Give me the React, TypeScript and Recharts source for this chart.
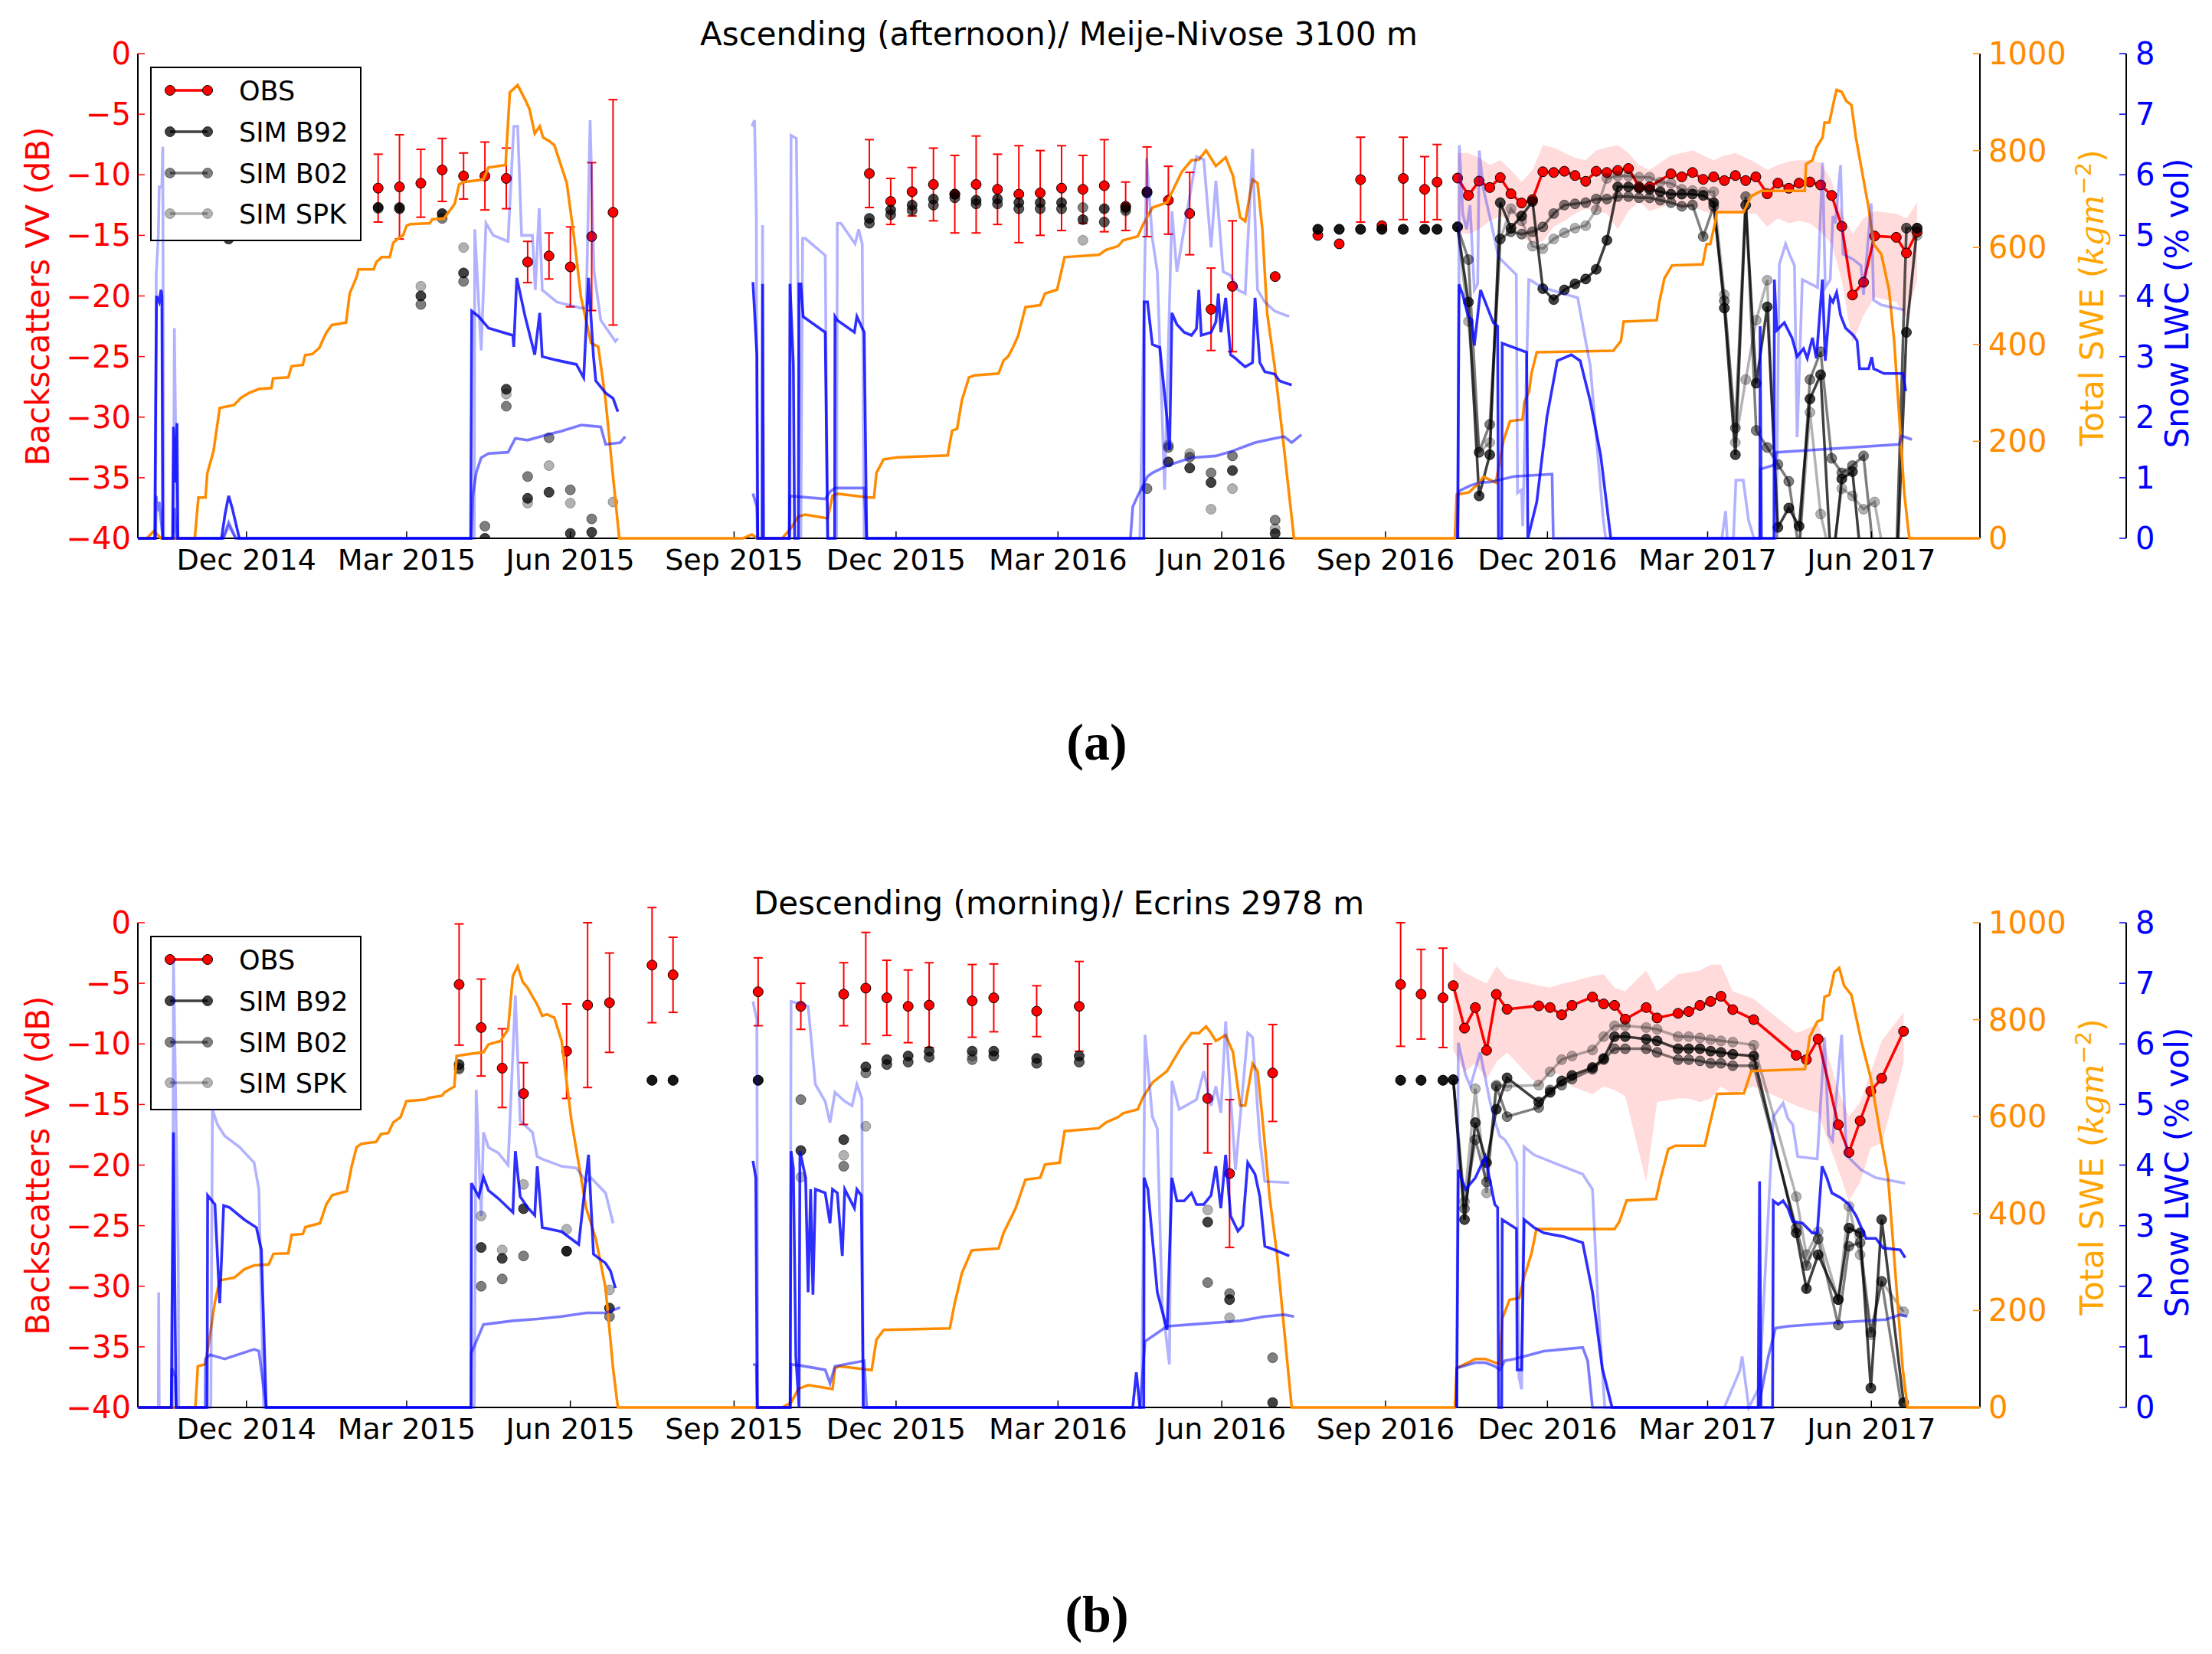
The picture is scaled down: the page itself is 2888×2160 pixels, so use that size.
import React from 'react';
import { ComposedChart, Line, Scatter, Area, XAxis, YAxis, ErrorBar } from 'recharts';

// x values are days counted from 2014-10-01
const X_DOMAIN = [0, 1035];
const TICK_DAYS = [61, 151, 243, 335, 426, 517, 609, 701, 792, 882, 974];
const TICK_LABELS = ['Dec 2014', 'Mar 2015', 'Jun 2015', 'Sep 2015', 'Dec 2015', 'Mar 2016', 'Jun 2016', 'Sep 2016', 'Dec 2016', 'Mar 2017', 'Jun 2017'];
const DB_TICKS = [-40, -35, -30, -25, -20, -15, -10, -5, 0];
const SWE_TICKS = [0, 200, 400, 600, 800, 1000];
const LWC_TICKS = [0, 1, 2, 3, 4, 5, 6, 7, 8];
const LEGEND_NAMES = ['OBS', 'SIM B92', 'SIM B02', 'SIM SPK'];

// ---------- (a) Ascending / Meije-Nivose ----------
// [day, dB, error]
const OBS_A_ERR = [
  [135, -11.1, 2.8], [147, -11.0, 4.3], [159, -10.7, 2.8], [171, -9.6, 2.6], [183, -10.1, 1.9], [195, -10.1, 2.8],
  [207, -10.3, 2.5], [219, -17.2, 1.7], [231, -16.7, 1.9], [243, -17.6, 3.3], [255, -15.1, 6.1], [267, -13.1, 9.3],
  [411, -9.9, 2.8], [423, -12.2, 1.9], [435, -11.4, 2.0], [447, -10.8, 3.0], [459, -11.6, 3.2], [471, -10.8, 4.0],
  [483, -11.2, 2.9], [495, -11.6, 4.0], [507, -11.5, 3.5], [519, -11.1, 3.5], [531, -11.2, 2.8], [543, -10.9, 3.8],
  [555, -12.6, 2.0], [567, -11.4, 3.7], [579, -12.1, 2.8], [591, -13.2, 3.4], [603, -21.1, 3.4], [615, -19.2, 5.4],
  [687, -10.4, 3.5], [711, -10.3, 3.4], [723, -11.2, 2.7], [730, -10.6, 3.1],
];
const OBS_A_PLAIN = [[639, -18.4], [663, -15.0], [675, -15.7], [699, -14.2]];

const B92_A_PTS = [
  [51, -15.3], [135, -12.7], [147, -12.7], [159, -20.0], [171, -13.2], [183, -18.1], [195, -40.0], [207, -27.7],
  [219, -36.7], [231, -36.2], [243, -39.6], [255, -39.5], [411, -13.6], [423, -12.9], [435, -12.5], [447, -12.0],
  [459, -11.6], [471, -12.1], [483, -12.0], [495, -12.3], [507, -12.3], [519, -12.3], [531, -13.7], [543, -12.8],
  [555, -12.7], [567, -11.5], [579, -33.7], [591, -34.2], [603, -35.4], [615, -34.4], [639, -39.6],
  [663, -14.5], [675, -14.5], [687, -14.5], [699, -14.5], [711, -14.5], [723, -14.5], [730, -14.5],
];
const B02_A_PTS = [
  [135, -12.7], [147, -12.8], [159, -20.7], [171, -13.6], [183, -18.8], [195, -39.0], [207, -29.1], [219, -34.9],
  [231, -31.7], [243, -36.0], [255, -38.4], [411, -14.0], [423, -13.3], [435, -12.9], [447, -12.5], [459, -11.9],
  [471, -12.4], [483, -12.4], [495, -12.8], [507, -12.8], [519, -12.8], [531, -12.7], [543, -13.9], [555, -12.9],
  [567, -35.9], [579, -32.5], [591, -33.3], [603, -34.6], [615, -33.2], [639, -38.5],
  [663, -14.5], [675, -14.5], [687, -14.5], [699, -14.5], [711, -14.5], [723, -14.5], [730, -14.5],
];
const SPK_A_PTS = [
  [135, -12.8], [147, -12.8], [159, -19.2], [171, -13.3], [183, -16.0], [207, -28.1], [219, -37.1], [231, -34.0],
  [243, -37.1], [267, -37.0], [411, -14.0], [423, -13.3], [435, -13.0], [447, -12.5], [459, -11.9], [471, -12.4],
  [483, -12.4], [495, -12.8], [507, -12.8], [519, -12.8], [531, -15.4], [543, -13.9], [555, -13.0], [567, -11.4],
  [579, -32.3], [591, -33.0], [603, -37.6], [615, -35.9], [639, -39.2],
  [663, -14.5], [675, -14.5], [687, -14.5], [699, -14.5], [711, -14.5], [723, -14.5], [730, -14.5],
];

// 2016-2017 season: [day, dB, band low, band high]
const OBS_A_S3 = [
  [741.5, -10.27, -14.7, -8.2], [747.6, -11.7, -14.9, -8.2], [753.6, -10.52, -14.5, -8.6], [759.6, -11.05, -13.8, -9.2],
  [765.5, -10.23, -13.4, -8.8], [771.5, -11.57, -13.8, -9.6], [777.5, -12.33, -15.1, -10.6], [783.6, -12.05, -15.7, -9.6],
  [789.4, -9.75, -15.5, -7.55], [795.5, -9.81, -14.3, -7.76], [801.5, -9.71, -13.8, -8.2], [807.5, -10.06, -13.2, -8.6],
  [813.5, -10.54, -12.8, -8.8], [819.4, -9.71, -13.0, -7.97], [825.4, -9.81, -13.2, -7.76], [831.5, -9.64, -14.5, -7.55],
  [837.5, -9.48, -13.0, -8.2], [843.5, -11.0, -12.2, -9.2], [849.4, -11.0, -13.0, -9.6], [861.4, -9.92, -12.4, -8.4],
  [867.5, -10.17, -12.8, -8.2], [873.5, -9.81, -12.6, -7.97], [879.5, -10.38, -13.0, -8.4], [885.4, -10.17, -13.2, -8.8],
  [891.4, -10.48, -13.2, -8.4], [897.6, -10.06, -13.2, -8.2], [903.4, -10.48, -13.2, -8.6], [909.1, -10.17, -13.2, -9.0],
  [915.5, -11.57, -14.3, -9.6], [921.5, -10.69, -13.6, -9.2], [927.6, -11.11, -14.0, -8.9], [933.4, -10.69, -13.8, -8.8],
  [939.5, -10.59, -14.0, -8.8], [945.5, -10.84, -14.7, -9.0], [951.7, -11.7, -15.7, -10.5], [957.4, -14.26, -18.7, -13.2],
  [963.4, -19.92, -23.9, -14.9], [969.6, -18.87, -21.6, -13.6], [975.8, -15.05, -20.1, -13.0], [988.0, -15.16, -20.5, -13.2],
  [993.7, -16.46, -21.8, -13.6], [999.7, -14.72, -18.7, -12.3],
];
const S3_DAYS_A = [
  741.5, 747.6, 753.6, 759.6, 765.5, 771.5, 777.5, 783.6, 789.4, 795.5, 801.5, 807.5, 813.5, 819.4, 825.4,
  831.5, 837.5, 843.5, 849.4, 855.4, 861.4, 867.5, 873.5, 879.5, 885.4, 891.4, 897.6, 903.4, 909.3, 915.5,
  921.5, 927.6, 933.4, 939.5, 945.5, 951.7, 957.4, 963.4, 969.6, 975.8, 981.8, 988.0, 993.7, 999.7,
];
const B92_A_S3 = [
  -14.3, -20.5, -36.5, -33.1, -12.3, -14.4, -13.4, -12.2, -19.4, -20.3, -19.5, -19.0, -18.6, -17.8, -15.4,
  -11.0, -11.0, -11.1, -11.2, -11.4, -11.6, -11.6, -11.6, -11.7, -12.3, -21.0, -33.1, -12.5, -27.2, -20.9,
  -39.1, -37.5, -39.0, -28.5, -26.5, -43, -35.1, -34.5, -44, -44, -44, -44, -23.0, -14.4,
];
const B02_A_S3 = [
  -14.3, -17.0, -32.9, -30.6, -15.3, -14.7, -14.9, -14.7, -14.3, -13.2, -12.5, -12.4, -12.3, -12.0, -12.0,
  -11.8, -11.8, -11.9, -11.9, -12.1, -12.3, -12.6, -12.5, -15.1, -12.6, -20.4, -30.9, -11.8, -31.1, -32.5,
  -33.9, -35.3, -41, -26.9, -24.6, -33.4, -34.6, -34.0, -33.2, -42, -42, -42, -14.4, -14.4,
];
const SPK_A_S3 = [
  -14.3, -22.1, -32.9, -32.1, -15.3, -12.8, -13.8, -15.9, -16.1, -15.3, -14.8, -14.4, -14.2, -12.9, -10.3,
  -10.1, -10.1, -10.2, -10.2, -10.6, -10.7, -11.2, -11.3, -11.4, -11.4, -19.9, -32.1, -26.9, -22.0, -18.7,
  -41, -41, -41, -29.6, -38, -42, -35.9, -36.5, -37.6, -37.0, -42, -42, -14.4, -15.0,
];

// total SWE, kg m-2
const SWE_A = [
  [0, 0], [5, 0], [9, 15], [13, 0], [32, 0], [34, 84], [38, 84], [39, 134], [42.5, 180], [46, 269], [54, 275], [58, 290],
  [62.5, 300], [68, 308], [75, 310], [76, 330], [84.5, 332], [86.4, 355], [92.7, 358], [94, 378], [98, 380], [102, 393],
  [104, 410], [106, 425], [109, 440], [117, 445], [119, 505], [123, 540], [124, 555], [132.5, 555], [134, 570], [137, 580],
  [141.5, 580], [143.5, 610], [146, 618], [149, 625], [151, 645], [153, 648], [164, 650], [165.4, 658], [172, 660],
  [175, 675], [178, 690], [180.5, 730], [183, 735], [194, 740], [197, 765], [206.6, 770], [209, 920], [213.4, 935],
  [217.6, 905], [220, 886], [223, 835], [225.8, 850], [227.7, 827], [231, 820], [234, 811], [241, 733], [245, 623],
  [249, 497], [254.6, 403], [258.7, 395], [262.8, 285], [267, 127], [270.5, 0],
  [340, 0], [345, 8], [348, 0], [362, 0], [367, 21], [371, 45], [375, 49], [387.6, 41], [390.3, 88], [393, 92], [411, 84],
  [413.6, 84], [415, 135], [419, 163], [427, 167], [455, 171], [457.5, 222], [460.3, 226], [463, 285], [467, 332],
  [470, 336], [483.6, 340], [486.4, 367], [489, 375], [491.8, 395], [494.6, 418], [498.7, 477], [507, 481], [509.7, 505],
  [516.5, 513], [520.7, 580], [540, 585], [544, 595], [550.8, 603], [553.6, 615], [561.8, 623], [564.6, 646], [570, 682],
  [578.3, 693], [586.5, 756], [592, 780], [596, 781], [600.2, 800], [603, 784], [605.7, 768], [611.2, 786], [615.3, 748],
  [619.4, 662], [622.2, 654], [626.3, 740], [629.1, 733], [631.8, 638], [634.5, 465], [638.7, 355], [644.1, 182], [649.6, 0],
  [740, 0], [741, 90], [748, 95], [753.7, 115], [756, 127], [763, 115], [767.4, 203], [771, 242], [778, 245], [779, 281],
  [781.7, 303], [783, 340], [786, 384], [829, 387], [833.3, 407], [834.8, 447], [853.4, 450], [854.8, 486], [857.7, 536],
  [862, 563], [879.2, 565], [881.4, 607], [883.5, 607], [886.4, 654], [887.1, 673], [902.2, 673], [906.5, 706],
  [912.2, 717], [936.6, 717], [937.3, 772], [940.9, 780], [943.1, 806], [946.6, 827], [947.7, 858], [950.4, 858],
  [953.2, 906], [954.5, 925], [957.3, 921], [960, 902], [962.8, 894], [965.3, 827], [972.5, 681], [975.3, 607],
  [979.6, 586], [983.9, 513], [986.8, 408], [989.7, 250], [992.5, 93], [994.7, 20], [995.4, 0], [1035, 0],
];

// snow LWC, % vol, one list per season
const LWC_B92_A = [
  [[0, 0], [9.5, 0], [10, 2.2], [10.5, 4.0], [12, 3.9], [13, 4.1], [13.5, 4.0], [14, 0], [19.5, 0], [20, 1.84], [21, 0.92],
    [22, 1.9], [22.5, 0], [47, 0], [49, 0.4], [51, 0.7], [53, 0.5], [57, 0], [187, 0], [187.6, 3.75], [191.5, 3.66],
    [197, 3.47], [210.7, 3.35], [211.2, 3.16], [212.9, 4.3], [217.6, 3.66], [223, 3.03], [225.8, 3.72], [227.2, 3.0],
    [235.4, 2.94], [246.4, 2.87], [250.5, 2.65], [253.2, 4.3], [256, 3.0], [257.3, 2.6], [262.8, 2.4], [267, 2.31], [269.7, 2.09]],
  [[345.6, 4.23], [347.8, 3.03], [348.3, 0], [350.8, 0], [351, 4.2], [351.5, 0], [366, 0], [366.4, 4.2], [368.3, 2.87],
    [369, 0], [371.1, 0], [371.5, 4.2], [372.5, 4.2], [373.8, 3.66], [386.2, 3.4], [387.6, 0], [391.5, 0], [391.7, 3.66],
    [393, 3.6], [402.6, 3.4], [404, 3.66], [408.1, 3.4], [409.5, 0], [565.2, 0], [565.4, 3.9], [567.3, 3.9], [570, 3.2],
    [574.2, 3.15], [578.3, 1.96], [579.7, 1.46], [581, 3.72], [583.8, 3.53], [587.9, 3.4], [592, 3.35], [594.8, 3.46],
    [596.1, 4.1], [597.5, 3.35], [603, 3.4], [605.7, 3.57], [607.1, 4.04], [608.5, 3.4], [611.2, 3.97], [614, 3.03],
    [616.7, 2.97], [619.4, 2.9], [622.2, 2.83], [626.3, 2.9], [627.7, 3.97], [630.4, 2.9], [633.2, 2.75], [638.7, 2.71],
    [641.4, 2.6], [644.1, 2.57], [648.3, 2.53]],
  [[741.5, 0], [742.3, 4.19], [744.4, 4.02], [747.3, 3.68], [749.4, 3.6], [750.9, 3.18], [754.4, 4.1], [761.6, 3.56],
    [764, 3.5], [764.5, 0], [766.3, 0], [766.6, 3.22], [780.3, 3.07], [781, 0], [786, 0.6], [791.7, 2.0], [797.5, 2.93],
    [805.4, 3.03], [810.4, 2.93], [816.1, 2.26], [821.9, 1.37], [827.6, 0], [911.4, 0], [911.5, 3.5], [912.2, 0],
    [919.3, 0], [919.5, 4.27], [920.8, 3.43], [925.1, 3.56], [929.4, 3.31], [932.3, 3.0], [935.9, 3.13], [938, 2.97],
    [940.9, 3.31], [943.1, 2.97], [946.5, 4.27], [948.1, 2.93], [950.9, 3.97], [952.4, 3.9], [954.5, 4.06], [956.7, 3.68],
    [959.5, 3.47], [963.9, 3.35], [966, 3.26], [967.4, 2.8], [972.5, 2.8], [974.2, 2.99], [975.3, 2.8], [981.1, 2.72],
    [991.8, 2.72], [993.3, 2.43]],
];
const LWC_B02_A = [
  [[0, 0], [10, 0], [10.3, 0.7], [11, 0.45], [12, 0.6], [14, 0], [20, 0], [20.5, 0.5], [22, 0], [48, 0], [51, 0.26],
    [55, 0], [187.4, 0], [188.2, 0.7], [190.1, 1.08], [192.9, 1.33], [197, 1.4], [208, 1.42], [212.1, 1.65], [219, 1.62],
    [229.9, 1.71], [238.1, 1.77], [249.1, 1.87], [260.1, 1.84], [262.8, 1.55], [271, 1.58], [273.8, 1.68]],
  [[345.6, 0.74], [347.8, 0.52], [348.3, 0], [366, 0], [366.4, 0.7], [386.2, 0.65], [389, 0.77], [391.7, 0.83],
    [408.1, 0.83], [409.5, 0], [557.7, 0], [559, 0.52], [561.8, 0.7], [567.3, 1.02], [570, 1.08], [578.3, 1.2], [592, 1.33],
    [605.7, 1.36], [614, 1.43], [622.2, 1.52], [627.7, 1.58], [638.7, 1.65], [644.1, 1.68], [648.3, 1.58], [653.8, 1.71]],
  [[741.5, 0], [742, 0.75], [743, 0.79], [748.7, 0.87], [753.7, 0.92], [760.2, 0.93], [773.1, 1.02], [794.6, 1.06],
    [795.3, 0], [911.3, 0], [911.5, 1.14], [919.4, 1.21], [920.8, 1.42], [989.7, 1.55], [991.1, 1.69], [996.8, 1.63]],
];
const LWC_SPK_A = [
  [[0, 0], [9.8, 0], [10, 0.7], [10.3, 4.35], [11.5, 5.0], [12, 5.8], [13.5, 5.8], [14, 6.46], [14.5, 0], [20, 0],
    [20.5, 3.47], [22, 0], [48, 0], [51, 0.2], [55, 0], [189, 0], [189.3, 5.1], [192.9, 3.1], [195.6, 5.2], [199.7, 5.0],
    [208, 4.9], [211.2, 6.8], [213.4, 6.8], [215.6, 5.0], [221.7, 5.0], [223.3, 4.1], [225.5, 5.45], [227.2, 4.1],
    [235.4, 3.9], [249.1, 3.8], [251.9, 3.8], [254.1, 6.9], [256.3, 4.4], [260.1, 3.6], [268.3, 3.25], [269.7, 3.3]],
  [[345, 6.8], [346.5, 6.9], [347.5, 5.3], [348, 0], [350.8, 0], [351, 5.17], [351.5, 0], [366.4, 0], [367, 6.65],
    [370, 6.6], [372.5, 0], [373.5, 4.95], [375, 4.95], [386.2, 4.67], [387.6, 0], [392.6, 0], [393, 5.2], [395, 5.2],
    [403, 4.86], [405, 5.1], [407, 4.86], [408.1, 0], [563, 0], [566.8, 6.27], [570, 4.95], [572.8, 4.4], [576.9, 0.8],
    [581, 5.4], [583.8, 4.4], [594.8, 6.3], [598.9, 6.25], [603, 4.8], [605.7, 5.9], [609.8, 4.4], [614, 4.34],
    [618.1, 4.1], [622.2, 4.04], [626.3, 6.43], [629.1, 4.1], [633.2, 3.9], [638.7, 3.75], [646.9, 3.66]],
  [[741.8, 0], [742.5, 6.49], [744.4, 5.36], [746.6, 5.1], [748.5, 5.5], [750.9, 4.1], [752.8, 4.2], [753.7, 6.4],
    [755.9, 5.78], [760.2, 5.23], [764.5, 4.64], [765.9, 4.6], [774.5, 4.35], [775.2, 0.75], [777.5, 0.8], [778.1, 0.2],
    [781.5, 4.27], [783.1, 4.25], [788.9, 4.14], [809, 3.97], [816.1, 2.84], [823.3, 0.33], [824.7, 0], [890, 0],
    [892.1, 0.45], [893, 0], [896.5, 0], [897.9, 0.96], [902, 0.96], [905, 0.3], [908, 0], [920.5, 0], [922.3, 4.52],
    [925.8, 4.86], [928, 4.69], [930.8, 4.5], [932.3, 1.67], [935.2, 4.27], [943.8, 4.14], [946.6, 6.2], [948.1, 4.14],
    [950.9, 4.27], [952.4, 5.32], [953.8, 5.2], [956.7, 6.16], [958.1, 4.69], [963.9, 4.6], [968.2, 4.5], [969.6, 4.02],
    [973.9, 5.53], [975.3, 3.93], [979.6, 3.85], [992.5, 3.77]],
];

// ---------- (b) Descending / Ecrins ----------
const OBS_B_ERR = [
  [180.5, -5.1, 5.0], [192.9, -8.65, 4.0], [204.7, -12.0, 3.25], [216.7, -14.1, 2.55], [240.9, -10.6, 3.9],
  [252.7, -6.8, 6.8], [265, -6.6, 4.1], [288.9, -3.5, 4.75], [300.7, -4.3, 3.1], [348.5, -5.7, 2.8], [372.5, -6.9, 1.9],
  [396.6, -5.9, 2.6], [409, -5.4, 4.6], [420.8, -6.2, 3.1], [432.8, -6.9, 3.0], [444.6, -6.8, 3.5], [468.8, -6.45, 3.0],
  [480.9, -6.2, 2.8], [505, -7.3, 2.1], [528.9, -6.9, 3.7], [601.1, -14.5, 4.5], [613.4, -20.7, 6.1], [637.6, -12.4, 4.0],
  [709.5, -5.1, 5.1], [721, -5.9, 3.7], [733.3, -6.2, 4.1],
];
const B92_B_PTS = [
  [180.5, -11.7], [192.9, -26.8], [204.7, -27.7], [216.7, -23.6], [240.9, -27.1], [265, -31.8], [288.9, -13.0],
  [300.7, -13.0], [348.5, -13.0], [372.5, -18.8], [396.6, -17.9], [409, -11.9], [420.8, -11.3], [432.8, -11.0],
  [444.6, -10.6], [468.8, -10.6], [480.9, -10.6], [505, -11.2], [528.9, -11.0], [601.1, -24.7], [613.4, -31.1],
  [637.6, -39.6], [709.5, -13.0], [721, -13.0], [733.3, -13.0],
];
const B02_B_PTS = [
  [180.5, -12.0], [192.9, -30.0], [204.7, -29.4], [216.7, -27.5], [240.9, -27.1], [265, -32.5], [288.9, -13.0],
  [300.7, -13.0], [348.5, -13.0], [372.5, -14.6], [396.6, -20.1], [409, -12.4], [420.8, -11.7], [432.8, -11.5],
  [444.6, -11.1], [468.8, -11.3], [480.9, -11.0], [505, -11.6], [528.9, -11.5], [601.1, -29.7], [613.4, -30.6],
  [637.6, -35.9], [709.5, -13.0], [721, -13.0], [733.3, -13.0],
];
const SPK_B_PTS = [
  [180.5, -12.1], [192.9, -24.2], [204.7, -27.0], [216.7, -21.6], [240.9, -25.3], [265, -30.3], [288.9, -13.0],
  [300.7, -13.0], [348.5, -13.0], [372.5, -21.0], [396.6, -19.2], [409, -16.8], [420.8, -11.7], [432.8, -11.5],
  [444.6, -11.1], [468.8, -11.0], [480.9, -11.0], [505, -11.6], [528.9, -11.5], [601.1, -23.7], [613.4, -32.6],
  [709.5, -13.0], [721, -13.0], [733.3, -13.0],
];
const S3_DAYS_B = [
  739.1, 745.4, 751.5, 757.8, 763.3, 769.3, 787.1, 793.5, 800.0, 805.8, 817.3, 823.6, 829.7, 835.7, 847.5, 853.6,
  865.4, 871.4, 877.7, 883.7, 889.5, 896.1, 907.9, 931.8, 937.5, 944.1, 955.4, 961.4, 967.7, 973.7, 979.8, 992.1,
];
const OBS_B_S3 = [
  -5.19, -8.7, -7.0, -10.53, -5.91, -7.14, -6.86, -7.0, -7.6, -6.82, -6.13, -6.7, -6.82, -7.96, -7.0, -7.86,
  -7.48, -7.33, -6.82, -6.5, -6.07, -7.17, -8.0, -10.94, -11.3, -9.6, -16.67, -18.96, -16.35, -13.9, -12.83, -8.96,
];
const BAND_LO_B = [
  -10.5, -12.3, -11.6, -12.9, -11.5, -10.7, -13.5, -12.3, -12.6, -13.5, -14.15, -13.5, -13.8, -14.3, -21.4, -14.8,
  -14.5, -14.5, -14.8, -14.5, -13.5, -14.15, -13.5, -15.1, -15.4, -15.7, -20.4, -22.96, -21.4, -18.55, -18.2, -11.6,
];
const BAND_HI_B = [
  -3.2, -4.1, -4.56, -5.03, -3.6, -4.56, -5.2, -5.35, -5.03, -4.87, -4.4, -4.25, -5.35, -5.66, -3.93, -5.66,
  -4.25, -4.1, -3.93, -3.46, -3.46, -5.66, -6.29, -9.1, -8.8, -8.3, -13.8, -16.0, -14.8, -12.3, -9.75, -7.4,
];
const B92_B_S3 = [
  -12.96, -24.5, -16.5, -19.8, -15.4, -12.8, -14.8, -14.0, -13.05, -12.6, -11.95, -11.2, -9.4, -9.4, -9.6, -9.75,
  -10.4, -10.4, -10.4, -10.6, -10.7, -10.85, -11.0, -25.6, -30.2, -27.4, -31.1, -25.2, -25.6, -38.4, -24.5, -39.6,
];
const B02_B_S3 = [
  -12.96, -23.6, -17.9, -21.4, -13.5, -16.0, -15.25, -13.8, -13.4, -12.9, -12.1, -11.3, -10.4, -10.4, -10.4, -10.7,
  -11.3, -11.3, -11.4, -11.6, -11.6, -11.8, -11.8, -25.2, -28.3, -26.1, -33.2, -26.7, -26.4, -33.8, -29.6, -41,
];
const SPK_B_S3 = [
  -12.96, -23.0, -13.7, -22.3, -13.4, -13.5, -13.4, -12.3, -11.3, -11.0, -10.5, -9.4, -8.5, -8.5, -8.65, -8.8,
  -9.4, -9.4, -9.5, -9.65, -9.75, -9.85, -10.1, -22.6, -27.4, -25.5, -31.1, -23.4, -27.4, -34.0, -29.6, -32.1,
];

const SWE_B = [
  [0, 0], [32.3, 0], [33.7, 85], [37.8, 89], [40, 136], [43.3, 218], [46, 262], [54.3, 268], [59.8, 285], [65.3, 293],
  [73.5, 295], [76.2, 317], [84.5, 318], [86.4, 356], [92.7, 358], [94.1, 372], [102.3, 380], [105.9, 419], [109.2, 438],
  [117.4, 446], [120.1, 497], [122.9, 537], [125.6, 544], [133.9, 548], [136.6, 564], [140.7, 566], [143.5, 588],
  [147.6, 599], [150.9, 632], [161.3, 635], [164, 639], [170.9, 643], [172.3, 650], [177.8, 662], [179.1, 725], [186, 729],
  [194.2, 733], [197, 749], [203.8, 756], [208, 780], [210.7, 890], [213.4, 910], [216.2, 878], [218.9, 866], [224.4, 831],
  [227.2, 808], [229.9, 811], [234, 804], [238.1, 756], [243.6, 592], [251.9, 411], [257.3, 348], [262.8, 246], [267, 81],
  [269.7, 0],
  [362, 0], [367, 10], [371.1, 38], [376.6, 46], [390.3, 38], [391.7, 81], [394.4, 85], [412.3, 77], [415, 140],
  [419.1, 160], [456.2, 163], [458.9, 214], [463, 277], [468.5, 324], [483.6, 328], [486.4, 360], [493.2, 411],
  [498.7, 470], [507, 474], [509.7, 501], [517.9, 505], [520.7, 570], [539.9, 576], [544, 588], [550.8, 599], [553.6, 607],
  [561.8, 615], [564.6, 639], [570, 670], [578.3, 694], [586.5, 745], [592, 772], [596.1, 772], [600.2, 786], [603, 772],
  [605.7, 756], [611.2, 768], [615.3, 733], [619.4, 623], [622.2, 623], [626.3, 709], [629.1, 694], [631.8, 599],
  [635.9, 434], [640, 317], [644.1, 160], [648.3, 0],
  [740, 0], [741, 81], [751.5, 100], [757, 100], [765.2, 89], [766.6, 183], [770.7, 222], [776.2, 226], [778.9, 269],
  [783, 317], [785.8, 368], [829.7, 368], [832.4, 383], [836.5, 427], [853, 430], [855.7, 474], [859.9, 533], [864, 540],
  [880.4, 540], [883.2, 584], [887.3, 647], [902.4, 648], [906.5, 694], [936.7, 698], [939.4, 765], [943.6, 796],
  [946.3, 800], [947.7, 847], [950.4, 851], [953.2, 898], [955.9, 907], [958.7, 870], [962.8, 851], [968.3, 756],
  [973.7, 679], [979.2, 560], [983.4, 474], [987.5, 277], [991.6, 81], [994.3, 0], [1035, 0],
];

const LWC_B92_B = [
  [[0, 0], [18.8, 0], [19.1, 1.28], [20, 4.54], [21, 1.28], [21.5, 0], [38.9, 0], [39.2, 3.5], [43.3, 3.35], [46, 1.72],
    [48.2, 3.33], [51.5, 3.3], [59.8, 3.1], [66.6, 2.97], [69.4, 2.6], [72.1, 0], [187.2, 0], [187.4, 3.7], [191.5, 3.48],
    [194.2, 3.8], [197, 3.58], [202.5, 3.45], [210.7, 3.22], [212.1, 4.23], [214.8, 3.48], [219, 3.3], [223, 3.17],
    [224.4, 3.98], [227.2, 2.97], [238.1, 2.9], [243.6, 2.78], [247.7, 2.69], [253.2, 4.17], [256, 2.53], [258.7, 2.47],
    [262.8, 2.38], [265.6, 2.25], [268.3, 1.97]],
  [[345.6, 4.07], [347.2, 3.79], [348, 0], [366.5, 0], [367, 4.23], [368.3, 3.95], [369.7, 0.84], [371.5, 0], [372, 4.23],
    [375.2, 3.79], [376.6, 1.9], [378, 3.6], [379.3, 1.86], [380.7, 3.6], [386.2, 3.54], [388.9, 3.04], [390.3, 3.6],
    [393, 3.54], [395.8, 2.5], [397.2, 3.6], [402.6, 3.29], [404, 3.6], [406.5, 3.5], [407.6, 0], [559, 0], [561, 0.58],
    [563, 0], [565.2, 0], [565.4, 3.79], [567.5, 3.6], [572.8, 1.9], [578.3, 1.28], [581, 3.79], [583.8, 3.41],
    [587.9, 3.41], [592, 3.54], [594.8, 3.35], [598.9, 3.35], [603, 3.5], [605.7, 3.98], [608.5, 3.29], [611.2, 4.17],
    [614, 3.16], [618.1, 2.91], [620.8, 3.0], [623.6, 4.04], [627.7, 3.85], [630.4, 3.48], [633.2, 2.66], [638.7, 2.6],
    [646.9, 2.5]],
  [[741, 0], [741.9, 3.92], [746, 3.6], [751.5, 3.79], [757, 4.14], [762.4, 3.35], [764, 3.3], [764.6, 0], [766.3, 0],
    [766.6, 3.1], [773.4, 2.97], [774.6, 2.95], [775, 0.62], [777.5, 0.62], [778.9, 3.1], [784.4, 2.97], [789.9, 2.88],
    [800.9, 2.82], [811.8, 2.72], [817.3, 1.9], [822.8, 0.65], [828.3, 0], [910.4, 0], [911.2, 3.73], [912, 0],
    [918.5, 0], [918.9, 3.41], [921.6, 3.35], [924.4, 3.41], [927.1, 3.29], [929.8, 3.07], [935.3, 3.04], [940.8, 2.88],
    [943.6, 2.88], [946.3, 3.98], [949, 3.79], [951.8, 3.54], [957.3, 3.45], [961.4, 3.35], [965.5, 3.16], [971, 2.79],
    [976.5, 2.79], [980.6, 2.63], [990.2, 2.6], [993, 2.47]],
];
const LWC_B02_B = [
  [[0, 0], [18.8, 0], [19.1, 0.65], [21, 0.5], [21.5, 0], [37.8, 0], [38, 0.8], [40.6, 0.87], [48.8, 0.8], [65.3, 0.96],
    [68, 0.93], [72.1, 0], [187.2, 0], [187.4, 0.9], [194.2, 1.37], [210.7, 1.43], [224.4, 1.46], [238.1, 1.5],
    [251.9, 1.56], [262.8, 1.56], [271, 1.65]],
  [[345.6, 0.71], [347.5, 0.7], [348, 0], [366.5, 0], [367, 0.71], [372.5, 0.69], [386.2, 0.62], [388.9, 0.4],
    [391.7, 0.68], [408.1, 0.77], [409.5, 0], [563, 0], [565.9, 1.09], [578.3, 1.34], [592, 1.37], [605.7, 1.4],
    [619.4, 1.43], [633.2, 1.5], [644.1, 1.53], [649.6, 1.5]],
  [[741, 0], [741.1, 0.65], [751.5, 0.74], [757, 0.74], [762.4, 0.68], [765.2, 0.62], [768, 0.77], [773.4, 0.8],
    [789.9, 0.93], [811.8, 0.99], [814.6, 0.77], [817.3, 0], [910.6, 0], [916.1, 0.84], [920.2, 1.31], [927.1, 1.34],
    [954.5, 1.4], [982, 1.45], [990.2, 1.53], [994.3, 1.5]],
];
const LWC_SPK_B = [
  [[0, 0], [11.5, 0], [11.7, 1.9], [12, 0], [19.5, 0], [20, 7.37], [22.7, 2.47], [23, 0], [41, 0], [41.9, 4.92],
    [44.7, 4.67], [48.8, 4.48], [57, 4.3], [65.3, 4.04], [68, 3.6], [70.7, 0], [189, 0], [190.1, 5.24], [192.9, 3.16],
    [194.2, 4.54], [197, 4.29], [202.5, 4.2], [208, 4.0], [212.1, 6.8], [214.8, 4.73], [221.7, 4.54], [224.4, 4.14],
    [227.2, 4.1], [238.1, 3.98], [246.4, 3.95], [251.9, 3.73], [254.6, 3.79], [262.8, 3.54], [267, 3.04]],
  [[345.6, 6.7], [347.8, 6.4], [348.3, 0], [366.5, 0], [367, 6.7], [373.8, 6.65], [376.6, 6.62], [380.7, 5.33],
    [386.2, 5.05], [388.9, 4.7], [391.7, 5.2], [397.2, 5.05], [401.3, 4.98], [404, 5.33], [406.8, 5.1], [407.6, 0],
    [564, 0], [565.9, 6.15], [570, 4.8], [572.8, 4.6], [575.5, 1.72], [579.6, 0.71], [581, 5.39], [585.1, 4.92],
    [594.8, 5.08], [598.9, 5.55], [603, 4.98], [605.7, 5.3], [608.5, 4.86], [611.2, 6.37], [616.7, 3.92], [623.6, 6.18],
    [626.3, 6.11], [630.4, 4.42], [633.2, 3.73], [646.9, 3.71]],
  [[741, 0], [741.9, 6.02], [746, 5.49], [748.7, 5.3], [754.2, 5.86], [759.7, 5.05], [762.4, 4.73], [765.2, 4.48],
    [768, 4.42], [770.7, 4.3], [774.8, 4.04], [776, 0.5], [777.5, 0.3], [778.9, 4.3], [784.4, 4.17], [795.4, 4.04],
    [811.8, 3.85], [817.3, 3.6], [820.1, 1.9], [824.2, 0], [891.4, 0], [900, 0.6], [901.4, 0.84], [905.1, 0], [911, 0.33],
    [918.9, 4.8], [924.4, 5.02], [927.1, 4.77], [929.8, 4.67], [932.6, 4.14], [943.6, 4.1], [947.7, 6.11], [950, 4.5],
    [952.2, 4.4], [957.3, 6.15], [960, 4.16], [968.3, 3.92], [976.5, 3.79], [993, 3.7]],
];

// ---------- layout ----------
const W = 2888;
const H = 1020;
const PLOT_TOP = 70;
const PLOT_BOTTOM = 703;
const PLOT_LEFT = 180;
const PLOT_RIGHT = 2585;
const LWC_AXIS_X = 2776;

const RED = '#ff0000';
const ORANGE = '#ff8c00';
const BLUE = '#0000ff';
const SIM_ALPHA = [0.75, 0.5, 0.3];
const LWC_ALPHA = [0.82, 0.52, 0.3];
const LEGEND_Y = [118, 172, 226, 279];

// ids sort so that the SWE axis sits next to the plot and LWC outside it
const SWE_ID = 'r1';
const LWC_ID = 'r2';

const rows = (list: number[][]) => list.map(([d, v]) => ({ d, v }));
const withGaps = (seasons: number[][][]) =>
  seasons.flatMap((s, i) => {
    if (i === 0) return rows(s);
    const prev = seasons[i - 1];
    return [{ d: (prev[prev.length - 1][0] + s[0][0]) / 2, v: null }, ...rows(s)];
  });
const zipDays = (days: number[], vals: number[]) => days.map((d, i) => ({ d, v: vals[i] }));
const minus = (v: number) => (v < 0 ? `\u2212${-v}` : `${v}`);

const PANEL_A = {
  title: 'Ascending (afternoon)/ Meije-Nivose 3100 m',
  tag: '(a)',
  tagY: 992,
  obsErr: OBS_A_ERR.map(([d, v, e]) => ({ d, v, e })),
  obsPlain: rows(OBS_A_PLAIN),
  obsLine: OBS_A_S3.map(([d, v, lo, hi]) => ({ d, v, band: [lo, hi] })),
  simPts: [rows(B92_A_PTS), rows(B02_A_PTS), rows(SPK_A_PTS)],
  simLines: [zipDays(S3_DAYS_A, B92_A_S3), zipDays(S3_DAYS_A, B02_A_S3), zipDays(S3_DAYS_A, SPK_A_S3)],
  swe: rows(SWE_A),
  lwc: [withGaps(LWC_B92_A), withGaps(LWC_B02_A), withGaps(LWC_SPK_A)],
};
const PANEL_B = {
  title: 'Descending (morning)/ Ecrins 2978 m',
  tag: '(b)',
  tagY: 996,
  obsErr: OBS_B_ERR.map(([d, v, e]) => ({ d, v, e })),
  obsPlain: [],
  obsLine: S3_DAYS_B.map((d, i) => ({ d, v: OBS_B_S3[i], band: [BAND_LO_B[i], BAND_HI_B[i]] })),
  simPts: [rows(B92_B_PTS), rows(B02_B_PTS), rows(SPK_B_PTS)],
  simLines: [zipDays(S3_DAYS_B, B92_B_S3), zipDays(S3_DAYS_B, B02_B_S3), zipDays(S3_DAYS_B, SPK_B_S3)],
  swe: rows(SWE_B),
  lwc: [withGaps(LWC_B92_B), withGaps(LWC_B02_B), withGaps(LWC_SPK_B)],
};

// ---------- ticks (matplotlib-style, pointing inwards) ----------
const BottomTick = ({ x, payload }: any) => (
  <g>
    <line x1={x} x2={x} y1={PLOT_BOTTOM} y2={PLOT_BOTTOM - 9} stroke="#000" strokeWidth={1.5} />
    <text x={x} y={PLOT_BOTTOM + 41} textAnchor="middle" fontSize={38} fill="#000">
      {TICK_LABELS[TICK_DAYS.indexOf(payload.value)]}
    </text>
  </g>
);
const TopTick = ({ x }: any) => (
  <line x1={x} x2={x} y1={PLOT_TOP} y2={PLOT_TOP + 9} stroke="#000" strokeWidth={1.5} />
);
const DbTick = ({ y, payload }: any) => (
  <g>
    <line x1={PLOT_LEFT} x2={PLOT_LEFT + 9} y1={y} y2={y} stroke={RED} strokeWidth={1.5} />
    <text x={PLOT_LEFT - 9} y={y + 14} textAnchor="end" fontSize={40} fill={RED}>{minus(payload.value)}</text>
  </g>
);
const SweTick = ({ y, payload }: any) => (
  <g>
    <line x1={PLOT_RIGHT - 9} x2={PLOT_RIGHT} y1={y} y2={y} stroke={ORANGE} strokeWidth={1.5} />
    <text x={PLOT_RIGHT + 11} y={y + 14} textAnchor="start" fontSize={40} fill={ORANGE}>{payload.value}</text>
  </g>
);
const LwcTick = ({ y, payload }: any) => (
  <g>
    <line x1={LWC_AXIS_X - 9} x2={LWC_AXIS_X} y1={y} y2={y} stroke={BLUE} strokeWidth={1.5} />
    <text x={LWC_AXIS_X + 12} y={y + 14} textAnchor="start" fontSize={40} fill={BLUE}>{payload.value}</text>
  </g>
);

const obsDot = (p: any) => (
  <circle cx={p.cx} cy={p.cy} r={6.5} fill={RED} stroke="#000" strokeWidth={1} />
);
const simDot = (a: number) => (p: any) => (
  <circle cx={p.cx} cy={p.cy} r={6.5} fill="#000" fillOpacity={a} stroke="#000" strokeOpacity={a} strokeWidth={1} />
);

const frame = { stroke: '#000', strokeWidth: 2 };

function BaseChart({ p }: any) {
  return (
    <ComposedChart width={W} height={H} margin={{ top: PLOT_TOP, right: 0, bottom: 0, left: 0 }}>
      <XAxis xAxisId={0} type="number" dataKey="d" domain={X_DOMAIN} ticks={TICK_DAYS} interval={0} allowDataOverflow
        height={H - PLOT_BOTTOM} tick={BottomTick} tickLine={false} axisLine={frame} />
      <XAxis xAxisId="top" orientation="top" type="number" dataKey="d" domain={X_DOMAIN} ticks={TICK_DAYS} interval={0}
        allowDataOverflow height={0} tick={TopTick} tickLine={false} axisLine={frame} />
      <YAxis yAxisId="db" orientation="left" width={PLOT_LEFT} domain={[-40, 0]} ticks={DB_TICKS} interval={0}
        allowDataOverflow tick={DbTick} tickLine={false} axisLine={frame} />
      <YAxis yAxisId={SWE_ID} orientation="right" width={LWC_AXIS_X - PLOT_RIGHT} domain={[0, 1000]} tick={false}
        tickLine={false} axisLine={frame} />
      <YAxis yAxisId={LWC_ID} orientation="right" width={W - LWC_AXIS_X} domain={[0, 8]} tick={false}
        tickLine={false} axisLine={false} />

      <Area data={p.obsLine} dataKey="band" yAxisId="db" type="linear" stroke="none" fill={RED} fillOpacity={0.14}
        isAnimationActive={false} />
      <Scatter data={p.obsErr} dataKey="v" yAxisId="db" shape={obsDot} isAnimationActive={false}>
        <ErrorBar dataKey="e" direction="y" width={6} stroke={RED} strokeWidth={2} isAnimationActive={false} />
      </Scatter>
      <Scatter data={p.obsPlain} dataKey="v" yAxisId="db" shape={obsDot} isAnimationActive={false} />
      <Line data={p.obsLine} dataKey="v" yAxisId="db" type="linear" stroke={RED} strokeWidth={3.5}
        dot={{ r: 6.5, fill: RED, stroke: '#000', strokeWidth: 1 }} isAnimationActive={false} />
      {p.simPts.map((pts: any, i: number) => (
        <Scatter key={`sp${i}`} data={pts} dataKey="v" yAxisId="db" shape={simDot(SIM_ALPHA[i])} isAnimationActive={false} />
      ))}
      {p.simLines.map((pts: any, i: number) => (
        <Line key={`sl${i}`} data={pts} dataKey="v" yAxisId="db" type="linear" stroke="#000" strokeOpacity={SIM_ALPHA[i]}
          strokeWidth={3.5}
          dot={{ r: 6.5, fill: '#000', fillOpacity: SIM_ALPHA[i], stroke: '#000', strokeOpacity: SIM_ALPHA[i], strokeWidth: 1 }}
          isAnimationActive={false} />
      ))}
    </ComposedChart>
  );
}

function OverlayChart({ p }: any) {
  return (
    <ComposedChart width={W} height={H} margin={{ top: PLOT_TOP, right: 0, bottom: 0, left: 0 }}>
      <XAxis xAxisId={0} type="number" dataKey="d" domain={X_DOMAIN} ticks={TICK_DAYS} allowDataOverflow
        height={H - PLOT_BOTTOM} tick={false} tickLine={false} axisLine={false} />
      <YAxis yAxisId="db" orientation="left" width={PLOT_LEFT} domain={[-40, 0]} tick={false} tickLine={false} axisLine={false} />
      <YAxis yAxisId={SWE_ID} orientation="right" width={LWC_AXIS_X - PLOT_RIGHT} domain={[0, 1000]} ticks={SWE_TICKS}
        interval={0} tick={SweTick} tickLine={false} axisLine={false} />
      <YAxis yAxisId={LWC_ID} orientation="right" width={W - LWC_AXIS_X} domain={[0, 8]} ticks={LWC_TICKS}
        interval={0} tick={LwcTick} tickLine={false} axisLine={frame} />
      <Line data={p.swe} dataKey="v" yAxisId={SWE_ID} type="linear" stroke={ORANGE} strokeWidth={3.5} dot={false}
        isAnimationActive={false} />
      {[2, 1, 0].map((i) => (
        <Line key={`lwc${i}`} data={p.lwc[i]} dataKey="v" yAxisId={LWC_ID} type="linear" stroke={BLUE}
          strokeOpacity={LWC_ALPHA[i]} strokeWidth={3.6} dot={false} isAnimationActive={false} />
      ))}
    </ComposedChart>
  );
}

function Texts({ p }: any) {
  return (
    <svg width={W} height={H} style={{ position: 'absolute', left: 0, top: 0 }}>
      <text x={(PLOT_LEFT + PLOT_RIGHT) / 2} y={59} textAnchor="middle" fontSize={42} fill="#000">{p.title}</text>
      <text transform="translate(64,387) rotate(-90)" textAnchor="middle" fontSize={42} fill={RED}>
        Backscatters VV (dB)
      </text>
      <text transform="translate(2746,389) rotate(-90)" textAnchor="middle" fontSize={42} fill="#ffa500">
        Total SWE (<tspan fontFamily="'DejaVu Serif'" fontStyle="italic">kgm</tspan>
        <tspan dy={-16} fontSize={29}>{'\u22122'}</tspan>
        <tspan dy={16}>)</tspan>
      </text>
      <text transform="translate(2857,396) rotate(-90)" textAnchor="middle" fontSize={42} fill={BLUE}>
        Snow LWC (% vol)
      </text>
      <g>
        <rect x={197} y={88} width={274} height={226} fill="#fff" stroke="#000" strokeWidth={2} />
        {LEGEND_NAMES.map((name, i) => {
          const y = LEGEND_Y[i];
          const obs = i === 0;
          const a = obs ? 1 : SIM_ALPHA[i - 1];
          const c = obs ? RED : '#000';
          return (
            <g key={name}>
              <line x1={222} x2={271} y1={y} y2={y} stroke={c} strokeOpacity={a} strokeWidth={3.5} />
              {[222, 271].map((cx) => (
                <circle key={cx} cx={cx} cy={y} r={6.5} fill={c} fillOpacity={a} stroke="#000" strokeOpacity={a} strokeWidth={1} />
              ))}
              <text x={312} y={y + 13} fontSize={35} fill="#000">{name}</text>
            </g>
          );
        })}
      </g>
      <text x={1432} y={p.tagY} textAnchor="middle" fontFamily="'Liberation Serif'" fontWeight="bold" fontSize={68} fill="#000">
        {p.tag}
      </text>
    </svg>
  );
}

function Panel({ p, top }: any) {
  return (
    <div style={{ position: 'absolute', left: 0, top, width: W, height: H }}>
      <div style={{ position: 'absolute', left: 0, top: 0 }}>
        <BaseChart p={p} />
      </div>
      <Texts p={p} />
      <div style={{ position: 'absolute', left: 0, top: 0 }}>
        <OverlayChart p={p} />
      </div>
    </div>
  );
}

export default function App() {
  return (
    <div style={{ position: 'absolute', left: 0, top: 0, width: W, height: 2160, background: '#fff',
      fontFamily: "'DejaVu Sans', sans-serif" }}>
      <Panel p={PANEL_A} top={0} />
      <Panel p={PANEL_B} top={1135} />
    </div>
  );
}
